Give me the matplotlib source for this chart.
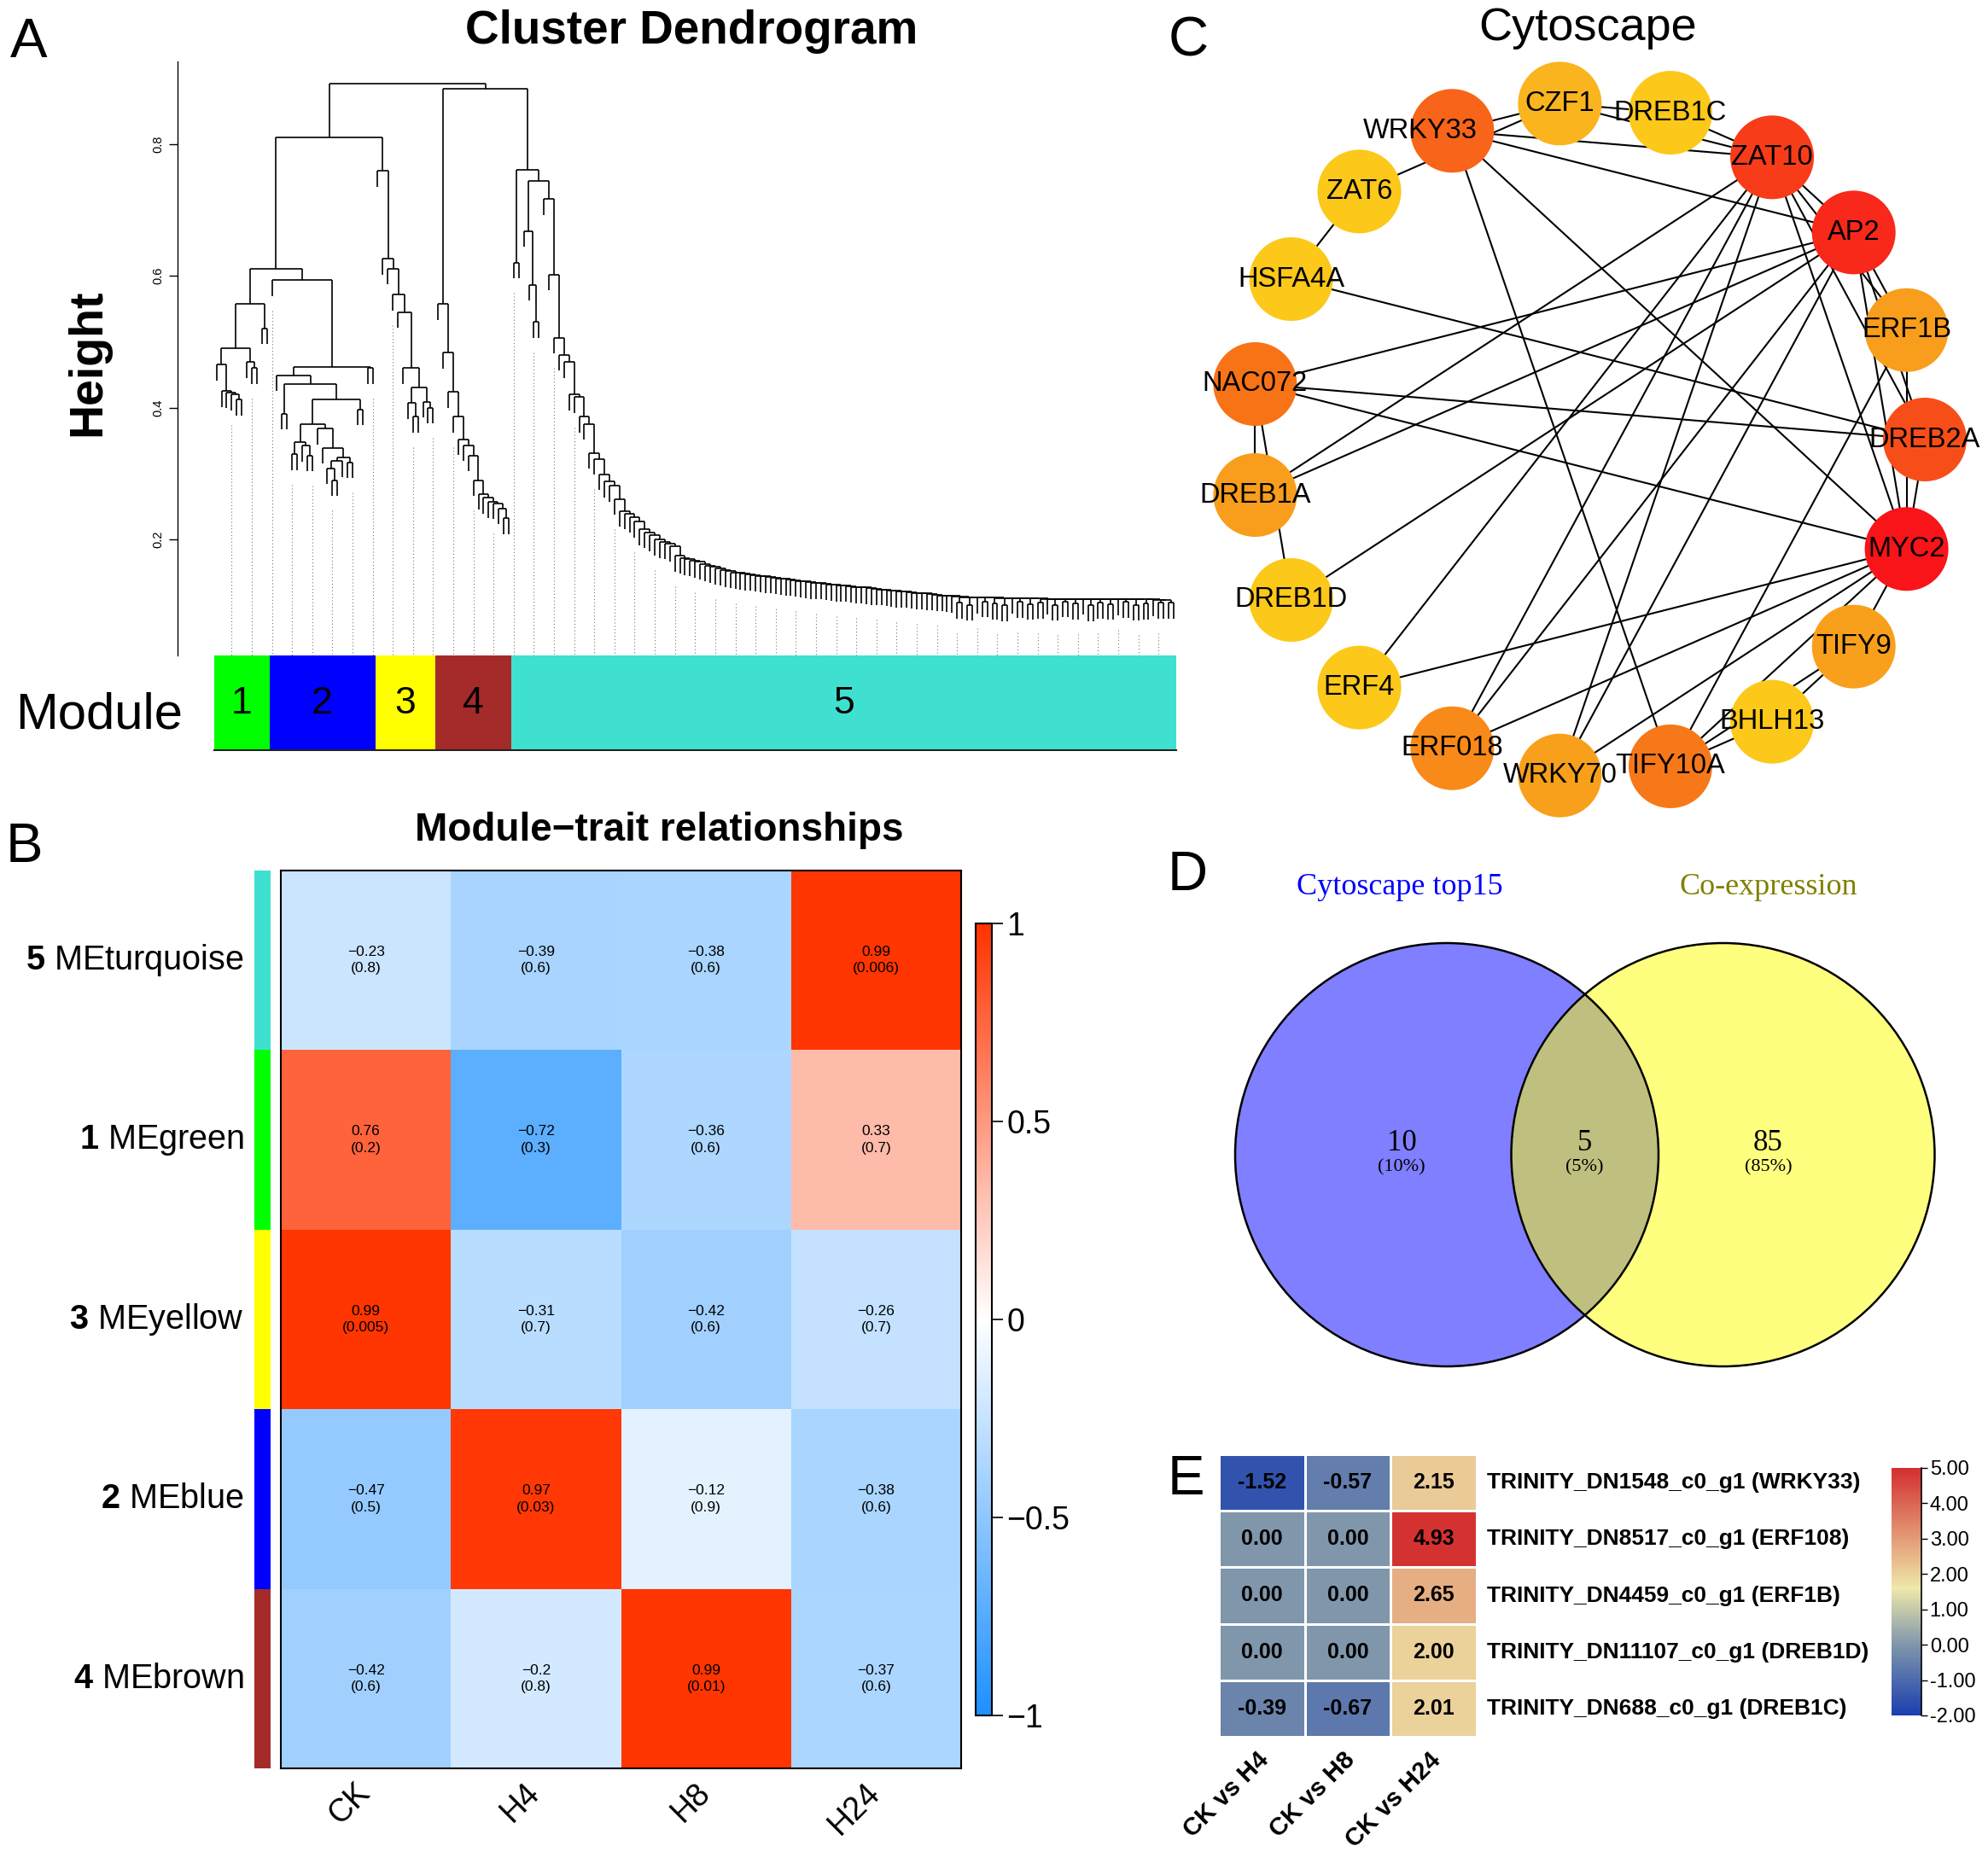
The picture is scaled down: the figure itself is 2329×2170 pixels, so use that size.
import numpy as np
import matplotlib.pyplot as plt
from matplotlib.colors import LinearSegmentedColormap, Normalize
from matplotlib.collections import LineCollection
from matplotlib.patches import Circle, Rectangle
import matplotlib.cm as cm

plt.rcParams['font.family'] = ['Liberation Sans', 'DejaVu Sans']
plt.rcParams['mathtext.fontset'] = 'custom'
plt.rcParams['mathtext.rm'] = 'Liberation Sans'
plt.rcParams['mathtext.bf'] = 'Liberation Sans:bold'

# ---------------- data ----------------
# A: dendrogram, (height, left, right), 0 = leaf, ('chain', steps, end) = staircase
hang = 0.024
green_tree = (0.557, (0.49, (0.465, 0, ('chain', [0.425, 0.423, 0.42], (0.412, 0, 0))),
                      (0.469, 0, (0.46, 0, 0))),
              (0.52, 0, 0))
blue_tree = (0.593, 0, (0.462, (0.449, 0, (0.436, (0.391, 0, 0),
                                           (0.413, (0.375, (0.348, (0.329, 0, 0), (0.342, 0, (0.327, 0, 0))),
                                                    (0.368, 0, (0.339, 0, (0.324, (0.319, (0.308, 0, (0.29, 0, 0)), 0),
                                                                          (0.317, 0, 0))))),
                                            (0.397, 0, 0)))),
                        (0.46, 0, 0)))
yellow_tree = (0.759, 0, ('chain', [0.626, 0.611, 0.571, 0.545, 0.46],
                          (0.43, (0.407, 0, (0.386, 0, 0)), (0.409, 0, (0.4, 0, 0)))))
brown_tree = (0.557, 0, ('chain', [0.483, 0.424, 0.386, 0.352, 0.343, 0.327, 0.29, 0.269,
                                   0.263, 0.257, 0.255, 0.247], (0.232, 0, 0)))
turq_steps = [0.506, 0.48, 0.469, 0.42, 0.416, 0.386, 0.375, 0.331, 0.322, 0.299, 0.288, 0.281,
              0.261, 0.243, 0.239, 0.234, 0.227, 0.215, 0.211, 0.206, 0.2, 0.196, 0.194, 0.19,
              0.175, 0.172, 0.17, 0.168, 0.166, 0.163, 0.16, 0.158, 0.156, 0.154, 0.152,
              0.150, 0.149, 0.148, 0.147, 0.146, 0.145, 0.144, 0.143, 0.142, 0.141, 0.140,
              0.139, 0.138, 0.137, 0.136, 0.135, 0.134, 0.134, 0.133, 0.132, 0.131, 0.130,
              0.130, 0.129, 0.128, 0.127, 0.127, 0.126, 0.125, 0.124, 0.124, 0.123, 0.122,
              0.121, 0.121, 0.120, 0.119, 0.118, 0.118, 0.117, 0.116, 0.115, 0.115, 0.114, 0.113,
              (0.112, 0.104), (0.112, 0.101), 0.112, (0.112, 0.106), (0.111, 0.103), (0.111, 0.100),
              0.111, (0.111, 0.105), (0.111, 0.102), (0.110, 0.104), 0.110, (0.110, 0.101),
              (0.110, 0.106), (0.110, 0.103), 0.110, (0.110, 0.100), (0.109, 0.104), (0.109, 0.102),
              0.109, (0.109, 0.105), (0.109, 0.101), (0.109, 0.103), 0.108, (0.108, 0.104)]
turq_tree = (0.761, (0.62, 0, 0),
             (0.744, (0.668, 0, (0.586, 0, (0.53, 0, 0))),
              (0.716, 0, (0.602, 0, ('chain', turq_steps, (0.104, 0, 0))))))
module_trees = [green_tree, blue_tree, yellow_tree, brown_tree, turq_tree]
module_nums = ['1', '2', '3', '4', '5']
module_cols = ['#00FF00', '#0000FF', '#FFFF00', '#A52A2A', '#40E0D0']
root_heights = [0.891, 0.81, 0.61, 0.884]

# B: module-trait correlations
traits = ['CK', 'H4', 'H8', 'H24']
me_names = ['MEturquoise', 'MEgreen', 'MEyellow', 'MEblue', 'MEbrown']
me_nums = ['5', '1', '3', '2', '4']
me_cols = ['#40E0D0', '#00FF00', '#FFFF00', '#0000FF', '#A52A2A']
cor = np.array([[-0.23, -0.39, -0.38, 0.99],
                [0.76, -0.72, -0.36, 0.33],
                [0.99, -0.31, -0.42, -0.26],
                [-0.47, 0.97, -0.12, -0.38],
                [-0.42, -0.2, 0.99, -0.37]])
pval = np.array([[0.8, 0.6, 0.6, 0.006],
                 [0.2, 0.3, 0.6, 0.7],
                 [0.005, 0.7, 0.6, 0.7],
                 [0.5, 0.03, 0.9, 0.6],
                 [0.6, 0.8, 0.01, 0.6]])

# C: network (circular layout order starting at 3 o'clock, counter-clockwise)
genes = ['DREB2A', 'ERF1B', 'AP2', 'ZAT10', 'DREB1C', 'CZF1', 'WRKY33', 'ZAT6', 'HSFA4A', 'NAC072',
         'DREB1A', 'DREB1D', 'ERF4', 'ERF018', 'WRKY70', 'TIFY10A', 'BHLH13', 'TIFY9', 'MYC2']
gene_cols = ['#F74E19', '#F89E1C', '#F8281A', '#F83C19', '#FCC81A', '#FAB41E', '#F8641A', '#FCC81A',
             '#FCC81A', '#F77316', '#F89E1C', '#FCC81A', '#FCC81A', '#F88A19', '#F8A01C', '#F77819',
             '#FCC81A', '#F8A01C', '#F81418']
edges = [('WRKY33', 'CZF1'), ('ZAT6', 'CZF1'), ('WRKY33', 'ZAT10'), ('WRKY33', 'AP2'),
         ('CZF1', 'DREB1C'), ('WRKY33', 'MYC2'), ('WRKY33', 'TIFY10A'), ('ZAT6', 'HSFA4A'),
         ('HSFA4A', 'DREB2A'), ('NAC072', 'AP2'), ('NAC072', 'DREB2A'), ('NAC072', 'MYC2'),
         ('NAC072', 'DREB1A'), ('NAC072', 'DREB1D'), ('DREB1A', 'ZAT10'), ('DREB1A', 'AP2'),
         ('DREB1D', 'AP2'), ('ERF4', 'ZAT10'), ('ERF4', 'MYC2'), ('ERF018', 'ZAT10'),
         ('ERF018', 'AP2'), ('ERF018', 'MYC2'), ('WRKY70', 'AP2'), ('WRKY70', 'MYC2'),
         ('WRKY70', 'ZAT10'), ('DREB1C', 'ZAT10'), ('CZF1', 'ZAT10'), ('ZAT10', 'AP2'),
         ('ZAT10', 'ERF1B'), ('ZAT10', 'DREB2A'), ('ZAT10', 'MYC2'), ('AP2', 'ERF1B'),
         ('AP2', 'DREB2A'), ('AP2', 'MYC2'), ('ERF1B', 'MYC2'), ('DREB2A', 'MYC2'),
         ('MYC2', 'TIFY10A'), ('MYC2', 'TIFY9'), ('TIFY9', 'BHLH13'), ('TIFY9', 'TIFY10A'),
         ('BHLH13', 'TIFY10A'), ('ERF1B', 'TIFY10A')]

# D: venn
venn_names = ['Cytoscape top15', 'Co-expression']
venn_counts = [10, 5, 85]

# E: log2FC heatmap
fc_cols = ['CK vs H4', 'CK vs H8', 'CK vs H24']
fc_rows = ['TRINITY_DN1548_c0_g1 (WRKY33)', 'TRINITY_DN8517_c0_g1 (ERF108)',
           'TRINITY_DN4459_c0_g1 (ERF1B)', 'TRINITY_DN11107_c0_g1 (DREB1D)',
           'TRINITY_DN688_c0_g1 (DREB1C)']
fc = np.array([[-1.52, -0.57, 2.15],
               [0.00, 0.00, 4.93],
               [0.00, 0.00, 2.65],
               [0.00, 0.00, 2.00],
               [-0.39, -0.67, 2.01]])

# ---------------- figure ----------------
W, H = 2329, 2170
fig = plt.figure(figsize=(W / 100, H / 100), dpi=100)


def box(x0, y0, x1, y1):
    return fig.add_axes([x0 / W, 1 - y1 / H, (x1 - x0) / W, (y1 - y0) / H])


def ftext(x, y, s, **kw):
    return fig.text(x / W, 1 - y / H, s, **kw)


def minus(s):
    return s.replace('-', '\u2212')


for lab, x, y in [('A', 12, 67), ('B', 7, 1010), ('C', 1369, 66), ('D', 1368, 1043), ('E', 1368, 1751)]:
    ftext(x, y, lab, fontsize=47, ha='left', va='baseline')

# ---------------- A ----------------
def expand(t):
    if t == 0:
        return 0
    if t[0] == 'chain':
        node = expand(t[2])
        for s in reversed(t[1]):
            if isinstance(s, tuple):
                node = (s[0], (s[1], 0, 0), node)
            else:
                node = (s, 0, node)
        return node
    return (t[0], expand(t[1]), expand(t[2]))


trees = [expand(t) for t in module_trees]
g, b, yel, br, tq = trees
root = (root_heights[0], (root_heights[1], (root_heights[2], g, b), yel), (root_heights[3], br, tq))


def count(t):
    return 1 if t == 0 else count(t[1]) + count(t[2])


segs = []
leaf_bot = {}
nleaf = [0]


def walk(t):
    if t == 0:
        nleaf[0] += 1
        return nleaf[0], None
    h, l, r = t
    xl, tl = walk(l)
    xr, tr = walk(r)
    bl = tl if tl is not None else h - hang
    brr = tr if tr is not None else h - hang
    if tl is None:
        leaf_bot[xl] = bl
    if tr is None:
        leaf_bot[xr] = brr
    segs.append([(xl, bl), (xl, h)])
    segs.append([(xl, h), (xr, h)])
    segs.append([(xr, h), (xr, brr)])
    return (xl + xr) / 2, h


walk(root)
N = nleaf[0]
ppl = (1375 - 253.6) / (N - 1)
xl0 = 1 - (253.6 - 208) / ppl
xl1 = xl0 + (1420 - 208) / ppl

axA = box(208, 72, 1420, 768)
axA.add_collection(LineCollection(segs, colors='black', linewidths=1.2))
for i in range(4, N + 1, 4):
    axA.plot([i, i], [leaf_bot[i] - 0.022, 0.0], color='#777777', lw=0.8, ls=(0, (1, 2.5)))
axA.set_xlim(xl0, xl1)
axA.set_ylim(0.024, 0.925)
for s in ['top', 'right', 'bottom']:
    axA.spines[s].set_visible(False)
axA.spines['left'].set_linewidth(1.0)
axA.set_xticks([])
axA.set_yticks([0.2, 0.4, 0.6, 0.8])
axA.set_yticklabels(['0.2', '0.4', '0.6', '0.8'], rotation=90, va='center', fontsize=10.5)
axA.tick_params(axis='y', length=7, width=1.0, pad=4)
ftext(810, 37, 'Cluster Dendrogram', fontsize=39.5, fontweight='bold', ha='center', va='center')
ftext(103, 425, 'Height', fontsize=40, fontweight='bold', rotation=90, ha='center', va='center')

axM = box(208, 768, 1420, 880)
axM.set_xlim(xl0, xl1)
axM.set_ylim(0, 1)
axM.axis('off')
start = 1
for t, c, n in zip(trees, module_cols, module_nums):
    k = count(t)
    axM.add_patch(Rectangle((start - 0.5, 0.02), k, 0.98, facecolor=c, edgecolor='none'))
    axM.text(start - 0.5 + k / 2, 0.5, n, fontsize=32, ha='center', va='center')
    start += k
axM.plot([0.5, N + 0.5], [0.01, 0.01], color='#222222', lw=1.5)
ftext(116, 838, 'Module', fontsize=43, ha='center', va='center')

# ---------------- B ----------------
cmapB = LinearSegmentedColormap.from_list('bwr_wgcna', ['#1E90FF', '#FFFFFF', '#FF3300'])
axB = box(329, 1020, 1126, 2072)
axB.pcolormesh(cor, cmap=cmapB, vmin=-1, vmax=1)
axB.set_xlim(0, 4)
axB.set_ylim(5, 0)
axB.set_xticks([])
axB.set_yticks([])
for s in axB.spines.values():
    s.set_linewidth(1.5)
for i in range(5):
    for j in range(4):
        axB.text(j + 0.5, i + 0.5, minus('%g' % cor[i, j]) + '\n(%g)' % pval[i, j],
                 fontsize=12.5, ha='center', va='center', linespacing=1.35)
axS = box(298, 1020, 317, 2072)
axS.set_xlim(0, 1)
axS.set_ylim(5, 0)
axS.axis('off')
row_h = (2072 - 1020) / 5
for i in range(5):
    axS.add_patch(Rectangle((0, i), 1, 1, facecolor=me_cols[i], edgecolor='none'))
    ftext(286, 1020 + row_h * (i + 0.5), r'$\mathbf{%s}$ %s' % (me_nums[i], me_names[i]),
          fontsize=28.5, ha='right', va='center')
col_w = (1126 - 329) / 4
for j, t in enumerate(traits):
    ftext(329 + col_w * (j + 0.5) + 12, 2082, t, fontsize=27, rotation=45, ha='right', va='top')
ftext(772, 973, 'Module\u2212trait relationships', fontsize=33, fontweight='bold', ha='center', va='center')

caxB = box(1143, 1082, 1162, 2010)
cbB = fig.colorbar(cm.ScalarMappable(norm=Normalize(-1, 1), cmap=cmapB), cax=caxB,
                   ticks=[-1, -0.5, 0, 0.5, 1])
cbB.ax.set_yticklabels([minus(s) for s in ['-1', '-0.5', '0', '0.5', '1']], fontsize=27)
cbB.ax.tick_params(length=9, width=1.2)
cbB.outline.set_linewidth(1.5)

# ---------------- C ----------------
axC = box(1380, 0, 2329, 1000)
axC.set_xlim(1380, 2329)
axC.set_ylim(1000, 0)
axC.axis('off')
cx, cy, R, rn = 1860, 515, 395, 49
ang = np.arange(len(genes)) * 2 * np.pi / len(genes)
pos = {gname: (cx + R * np.cos(a), cy - R * np.sin(a)) for gname, a in zip(genes, ang)}
for a_, b_ in edges:
    axC.plot([pos[a_][0], pos[b_][0]], [pos[a_][1], pos[b_][1]], color='black', lw=1.5, zorder=1)
label_dx = {'WRKY33': -38}
for gname, c in zip(genes, gene_cols):
    x, y = pos[gname]
    axC.add_patch(Circle((x, y), rn, facecolor=c, edgecolor='none', zorder=2))
    axC.text(x + label_dx.get(gname, 0), y, gname, fontsize=23.5, ha='center', va='center', zorder=3)
axC.text(cx, 33, 'Cytoscape', fontsize=39, ha='center', va='center')

# ---------------- D ----------------
axD = box(1380, 1000, 2329, 1660)
axD.set_xlim(1380, 2329)
axD.set_ylim(1660, 1000)
axD.axis('off')
lc, rc, vy, vr = 1695, 2018.5, 1353, 248
axD.add_patch(Circle((lc, vy), vr, facecolor='#0000FF', alpha=0.5, edgecolor='none'))
axD.add_patch(Circle((rc, vy), vr, facecolor='#FFFF00', alpha=0.5, edgecolor='none'))
for xc in (lc, rc):
    axD.add_patch(Circle((xc, vy), vr, facecolor='none', edgecolor='black', lw=1.8))
total = sum(venn_counts)
for xc, n in zip([lc - 53, (lc + rc) / 2, rc + 53], venn_counts):
    axD.text(xc, 1340, str(n), fontsize=25, family='Liberation Serif', ha='center', va='center')
    axD.text(xc, 1368, '(%d%%)' % round(100 * n / total), fontsize=16, family='Liberation Serif',
             ha='center', va='center')
axD.text(1640, 1040, venn_names[0], fontsize=26, family='Liberation Serif', color='#0000FF',
         ha='center', va='center')
axD.text(2072, 1040, venn_names[1], fontsize=26, family='Liberation Serif', color='#808000',
         ha='center', va='center')

# ---------------- E ----------------
cmapE = LinearSegmentedColormap.from_list('fc', [(0.0, '#1A3FAE'), (2 / 7, '#8096AB'),
                                                 (3.6 / 7, '#EEE8AA'), (1.0, '#D32F2F')])
axE = box(1428, 1704, 1730, 2035)
axE.pcolormesh(fc, cmap=cmapE, vmin=-2, vmax=5, edgecolors='white', linewidth=2)
axE.set_xlim(0, 3)
axE.set_ylim(5, 0)
axE.axis('off')
for i in range(5):
    for j in range(3):
        axE.text(j + 0.5, i + 0.5, '%.2f' % fc[i, j], fontsize=18, fontweight='bold',
                 ha='center', va='center')
rowE = (2035 - 1704) / 5
for i, t in enumerate(fc_rows):
    ftext(1742, 1704 + rowE * (i + 0.5), t, fontsize=19, fontweight='bold', ha='left', va='center')
colE = (1730 - 1428) / 3
for j, t in enumerate(fc_cols):
    ftext(1428 + colE * (j + 0.5) + 14, 2048, t, fontsize=21, fontweight='bold', rotation=45,
          ha='right', va='top')
caxE = box(2216, 1720, 2251, 2010)
cbE = fig.colorbar(cm.ScalarMappable(norm=Normalize(-2, 5), cmap=cmapE), cax=caxE,
                   ticks=[-2, -1, 0, 1, 2, 3, 4, 5])
cbE.ax.set_yticklabels(['%.2f' % v for v in range(-2, 6)], fontsize=17)
cbE.outline.set_visible(False)
cbE.ax.tick_params(length=5, width=1.0, pad=2)
cbE.ax.plot([1, 1], [0, 1], transform=cbE.ax.transAxes, color='black', lw=1.2, clip_on=False)

fig.savefig('out.png', dpi=100, facecolor='white')
